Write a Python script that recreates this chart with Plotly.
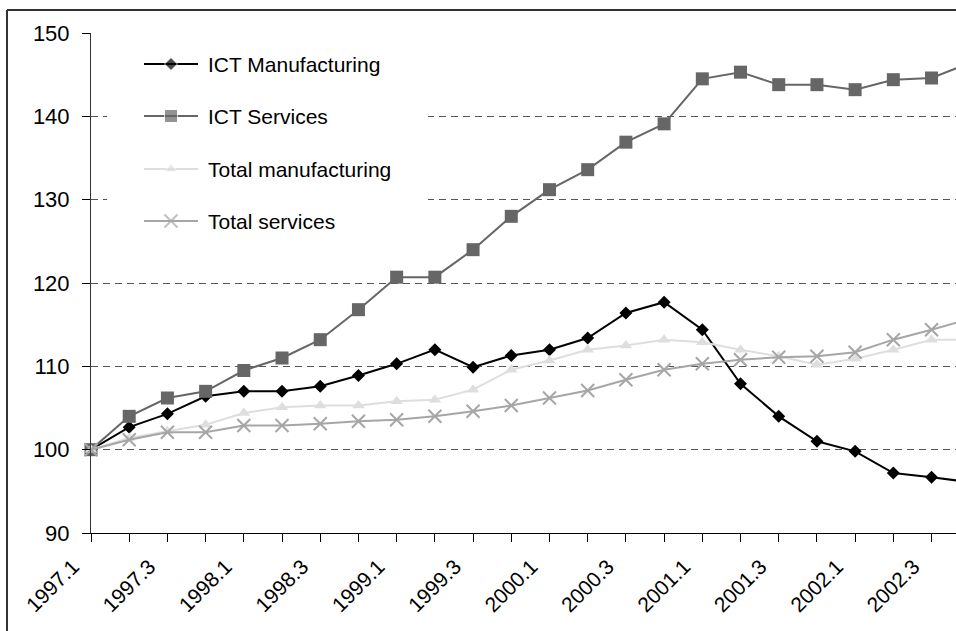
import plotly.graph_objects as go

# Quarterly index, 1997.1 = 100
quarters = [
    "1997.1", "1997.2", "1997.3", "1997.4",
    "1998.1", "1998.2", "1998.3", "1998.4",
    "1999.1", "1999.2", "1999.3", "1999.4",
    "2000.1", "2000.2", "2000.3", "2000.4",
    "2001.1", "2001.2", "2001.3", "2001.4",
    "2002.1", "2002.2", "2002.3", "2002.4",
]

ict_manufacturing = [100.0, 102.7, 104.3, 106.4, 107.0, 107.0, 107.6, 108.9,
                     110.3, 112.0, 109.9, 111.3, 112.0, 113.4, 116.4, 117.7,
                     114.4, 107.9, 104.0, 101.0, 99.8, 97.2, 96.7, 96.1]
ict_services = [100.0, 104.0, 106.2, 107.0, 109.5, 111.0, 113.2, 116.8,
                120.7, 120.7, 124.0, 128.0, 131.2, 133.6, 136.9, 139.1,
                144.5, 145.3, 143.8, 143.8, 143.2, 144.4, 144.6, 146.4]
total_manufacturing = [100.0, 101.4, 102.2, 103.0, 104.4, 105.1, 105.3, 105.3,
                       105.8, 106.0, 107.2, 109.6, 110.7, 112.0, 112.5, 113.2,
                       112.9, 112.0, 111.2, 110.2, 110.9, 112.0, 113.2, 113.2]
total_services = [100.0, 101.2, 102.1, 102.1, 102.9, 102.9, 103.1, 103.4,
                  103.6, 104.0, 104.6, 105.3, 106.2, 107.1, 108.4, 109.6,
                  110.3, 110.8, 111.1, 111.2, 111.7, 113.2, 114.4, 115.7]

y_ticks = [90, 100, 110, 120, 130, 140, 150]

FONT = "Liberation Sans, Arial, sans-serif"

series = [
    dict(name="ICT Manufacturing", values=ict_manufacturing, color="#000000",
         symbol="diamond", size=10, mcolor="#000000"),
    dict(name="ICT Services", values=ict_services, color="#666666",
         symbol="square", size=13, mcolor="#666666"),
    dict(name="Total manufacturing", values=total_manufacturing, color="#dedede",
         symbol="triangle-up", size=11, mcolor="#dedede"),
    dict(name="Total services", values=total_services, color="#a6a6a6",
         symbol="x-thin", size=13, mcolor="#a6a6a6"),
]

x_idx = list(range(len(quarters)))

fig = go.Figure()

for s in series:
    marker = dict(symbol=s["symbol"], size=s["size"], color=s["mcolor"])
    if s["symbol"] == "x-thin":
        marker["line"] = dict(color=s["mcolor"], width=2)
    fig.add_trace(go.Scatter(
        x=x_idx, y=s["values"], name=s["name"], mode="lines+markers",
        line=dict(color=s["color"], width=2), marker=marker,
        cliponaxis=False, showlegend=False, hoverinfo="skip",
    ))

# Hand-built key on a pixel-scaled overlay axis pair
legend_rows = [64, 116, 169, 221]
key_x0, key_xm, key_x1, key_text = 144, 171, 198, 206

shapes = [
    # white panel behind the key (hides the gridlines there)
    dict(type="rect", xref="x", yref="y", x0=0.42, x1=8.82, y0=124.2, y1=149.2,
         fillcolor="white", line=dict(width=0), layer="between"),
    # outer frame (top and left edges)
    dict(type="line", xref="paper", yref="paper", x0=-0.0971, x1=1.2,
         y0=1.046, y1=1.046, line=dict(color="#333333", width=2)),
    dict(type="line", xref="paper", yref="paper", x0=-0.0971, x1=-0.0971,
         y0=1.046, y1=-0.4, line=dict(color="#333333", width=2)),
]

annotations = []
for s, ry in zip(series, legend_rows):
    marker = dict(symbol=s["symbol"], size=[0, s["size"], 0], color=s["mcolor"])
    if s["symbol"] == "x-thin":
        marker["line"] = dict(color=s["mcolor"], width=2)
    fig.add_trace(go.Scatter(
        x=[key_x0, key_xm, key_x1], y=[ry, ry, ry], xaxis="x2", yaxis="y2",
        mode="lines+markers", line=dict(color=s["color"], width=2),
        marker=marker, showlegend=False, hoverinfo="skip", cliponaxis=False,
    ))
    annotations.append(dict(
        x=key_text, y=ry, xref="x2", yref="y2", text=s["name"],
        showarrow=False, xanchor="left", yanchor="middle",
        font=dict(family=FONT, size=21, color="black"),
    ))

fig.update_layout(
    width=956, height=631,
    margin=dict(l=91, r=0, t=33, b=98, pad=0),
    plot_bgcolor="white", paper_bgcolor="white",
    showlegend=False,
    font=dict(family=FONT, size=21, color="black"),
    shapes=shapes, annotations=annotations,
    xaxis=dict(
        range=[0, 22.64], tickmode="array", tickvals=x_idx,
        ticktext=[q if i % 2 == 0 else "" for i, q in enumerate(quarters)],
        tickangle=-45, ticks="outside", ticklen=8, tickcolor="black",
        showline=True, linecolor="black", linewidth=1,
        showgrid=False, zeroline=False, ticklabelshift=-18,
        ticklabelstandoff=4,
        tickfont=dict(family=FONT, size=21, color="black"),
    ),
    yaxis=dict(
        range=[90, 150], tickmode="array", tickvals=y_ticks,
        ticks="outside", ticklen=8, tickcolor="black",
        showline=True, linecolor="#333333", linewidth=1,
        showgrid=True, gridcolor="#555555", gridwidth=1, griddash="7px,5px",
        zeroline=False, ticklabelstandoff=8,
        tickfont=dict(family=FONT, size=22, color="black"),
    ),
    xaxis2=dict(overlaying="x", range=[91, 956], visible=False, anchor="y2"),
    yaxis2=dict(overlaying="y", range=[533, 33], visible=False, anchor="x2"),
)

fig.write_html("out.html")
